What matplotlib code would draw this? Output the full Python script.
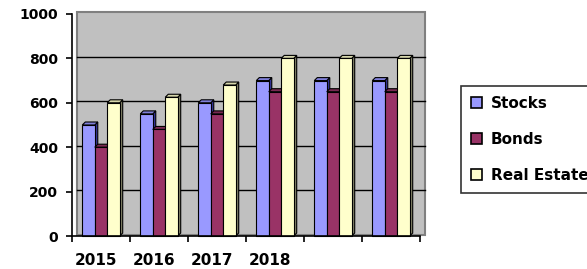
import matplotlib
matplotlib.use("Agg")
import matplotlib.pyplot as plt
from matplotlib.patches import Rectangle, Polygon, Patch
import matplotlib.transforms as mtransforms

# data
years = ["2015", "2016", "2017", "2018", "", ""]
stocks = [500, 550, 600, 700, 700, 700]
bonds = [400, 480, 550, 650, 650, 650]
real_estate = [600, 625, 680, 800, 800, 800]
series_names = ["Stocks", "Bonds", "Real Estate"]

# front / top / side shades for each series
front = ["#9999FF", "#993366", "#FFFFCC"]
top = ["#8080D9", "#7A2952", "#D6D6AB"]
side = ["#333399", "#4D1A33", "#808066"]

W, H, DPI = 5.87, 2.69, 100
fig = plt.figure(figsize=(W, H), dpi=DPI)
ax = fig.add_axes([72 / 587, 33 / 269, 348 / 587, 222 / 269])
ax.set_xlim(0, len(years))
ax.set_ylim(0, 1000)
ax.set_facecolor("none")

ax_w = W * DPI * 348 / 587
ax_h = H * DPI * 222 / 269
px_x = len(years) / ax_w       # data units per pixel
px_y = 1000 / ax_h

# back wall, pushed back a few pixels
wx, wy = 4.5 * px_x, 1.5 * px_y
ax.add_patch(Rectangle((wx, wy), len(years), 1000, facecolor="#C0C0C0",
                       edgecolor="#808080", lw=1.5, clip_on=False, zorder=0))
for v in [200, 400, 600, 800]:
    ax.plot([wx, len(years) + wx], [v + wy, v + wy], color="black", lw=1,
            clip_on=False, zorder=1)

# 3d bars
bw = 0.215
dx, dy = 3 * px_x, 3 * px_y
for s, vals in enumerate([stocks, bonds, real_estate]):
    for i, v in enumerate(vals):
        x0 = i + 0.5 + (s - 1.5) * bw
        x1 = x0 + bw
        ax.add_patch(Polygon([(x1, 0), (x1 + dx, dy), (x1 + dx, v + dy), (x1, v)],
                             facecolor=side[s], edgecolor="black", lw=0.8,
                             clip_on=False, zorder=2 + s))
        ax.add_patch(Polygon([(x0, v), (x1, v), (x1 + dx, v + dy), (x0 + dx, v + dy)],
                             facecolor=top[s], edgecolor="black", lw=0.8,
                             clip_on=False, zorder=2 + s))
        ax.add_patch(Rectangle((x0, 0), bw, v, facecolor=front[s],
                               edgecolor="black", lw=0.8, clip_on=False,
                               zorder=2 + s))

for sp in ["top", "right"]:
    ax.spines[sp].set_visible(False)
ax.spines["left"].set_linewidth(1.2)
ax.spines["bottom"].set_linewidth(1.2)
ax.spines["left"].set_zorder(6)
ax.spines["bottom"].set_zorder(6)

ax.set_yticks([0, 200, 400, 600, 800, 1000])
ax.tick_params(axis="y", length=4, width=1.2, pad=6, labelsize=10)
for lab in ax.get_yticklabels():
    lab.set_fontweight("bold")

ax.set_xticks(range(len(years) + 1))
ax.set_xticklabels([])
ax.tick_params(axis="x", which="major", length=4, width=1.2)
ax.set_xticks([i + 0.5 for i in range(len(years))], minor=True)
ax.set_xticklabels(years, minor=True, fontsize=11, fontweight="bold")
ax.tick_params(axis="x", which="minor", length=0, pad=12)
shift = mtransforms.ScaledTranslation(-5 / DPI, 0, fig.dpi_scale_trans)
for lab in ax.get_xticklabels(minor=True):
    lab.set_transform(lab.get_transform() + shift)

handles = [Patch(facecolor=front[k], edgecolor="black", lw=1.2) for k in range(3)]
leg = fig.legend(handles, series_names, loc="upper left",
                 bbox_to_anchor=(461 / 587, 1 - 86 / 269), borderaxespad=0,
                 fancybox=False, frameon=True, handlelength=0.75,
                 handleheight=0.75, handletextpad=0.55, labelspacing=1.38,
                 borderpad=0.65, prop={"size": 11, "weight": "bold"})
leg.get_frame().set_edgecolor("black")
leg.get_frame().set_linewidth(1.2)

fig.savefig("out.png", dpi=DPI)
